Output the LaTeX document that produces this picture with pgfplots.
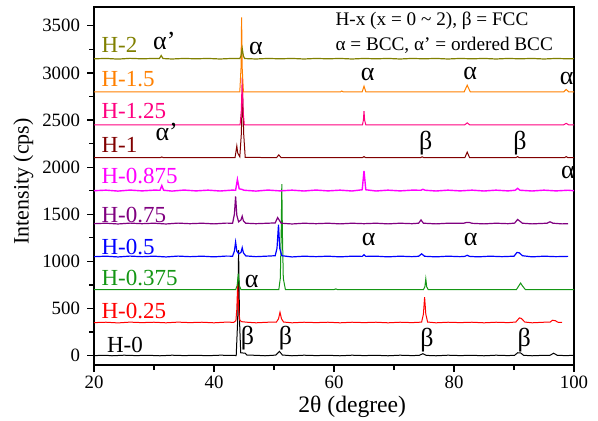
\documentclass[border=0pt]{standalone}
\usepackage{fontspec}
\setmainfont{Liberation Serif}
\usepackage{pgfplots}
\pgfplotsset{compat=1.18}

\definecolor{cH0}{RGB}{0,0,0}
\definecolor{cH025}{RGB}{255,0,0}
\definecolor{cH0375}{RGB}{20,150,20}
\definecolor{cH05}{RGB}{0,0,255}
\definecolor{cH075}{RGB}{128,0,128}
\definecolor{cH0875}{RGB}{255,0,255}
\definecolor{cH1}{RGB}{128,0,0}
\definecolor{cH125}{RGB}{255,0,128}
\definecolor{cH15}{RGB}{255,128,0}
\definecolor{cH2}{RGB}{128,128,0}

\newcommand{\lbl}{\fontsize{11.5}{12}\selectfont}
\newcommand{\gr}{\fontsize{13}{14}\selectfont}

\begin{document}
\begin{tikzpicture}
\begin{axis}[
scale only axis,
width=240pt, height=179pt,
xmin=20, xmax=100, ymin=-100, ymax=3700,
xtick={20,40,60,80,100},
ytick={0,500,1000,1500,2000,2500,3000,3500},
minor x tick num=1, minor y tick num=1,
tick align=outside, tick pos=left,
major tick length=3.5pt, minor tick length=2.5pt,
axis line style={line width=0.75pt},
every tick/.style={line width=0.6pt, black},
/pgf/number format/assume math mode=true,
/pgf/number format/1000 sep={},
ticklabel style={font=\fontsize{9.4}{10}\selectfont},
xticklabel style={inner sep=2pt},
xlabel={2θ (degree)}, ylabel={Intensity (cps)},
xlabel style={font=\fontsize{11.8}{13}\selectfont, inner sep=0pt, at={(axis description cs:0.538,-0.116)}, anchor=center},
ylabel style={font=\fontsize{11}{12}\selectfont, at={(axis description cs:-0.147,0.513)}, anchor=center},
clip=false,
]

% H-0
\addplot[cH0, line width=0.5pt] table[y expr=\thisrowno{1}] {
x y
20 0
22 3
23 -2
25 4
27 0
29 3
31 -2
33 4
35 0
37 3
39 -1
41 4
43.3 2
43.7 0
43.95 380
44.1 1120
44.25 380
44.45 30
44.7 28
45.2 25
45.5 5
47 3
48.5 -2
50.3 5
50.9 45
51.4 6
53 -2
55 4
57 0
59 3
61 -2
63 4
65 0
67 3
69 -2
71 4
73 0
74.2 2
74.8 20
75.4 2
77 -2
79 4
81 0
83 3
85 -2
87 4
89 0
90.1 3
90.6 30
91.1 28
91.6 3
93 -2
95 3
96.0 3
96.6 25
97.2 3
98.5 0
100 2
};

% H-0.25
\addplot[cH025, line width=0.5pt] table[y expr=\thisrowno{1}+350] {
x y
20 0
22 4
24 -3
26 5
28 0
30 4
32 -2
34 5
36 0
38 4
40 -2
42 5
43.3 3
43.65 20
43.8 140
43.95 420
44.1 140
44.3 25
44.6 10
45.5 4
47 -2
49 4
50.4 5
50.75 40
51.0 110
51.25 40
51.6 6
53 -2
55 4
57 0
59 4
61 -2
63 4
65 0
67 4
69 -2
71 4
73 0
74.6 5
74.9 90
75.1 270
75.3 90
75.6 6
77 -2
79 4
81 0
83 4
85 -2
87 4
89 0
90.3 6
90.9 50
91.2 45
91.8 6
93 -2
95 4
96.0 4
96.4 25
96.9 20
97.3 4
98 2
};

% H-0.375
\addplot[cH0375, line width=0.5pt] table[y expr=\thisrowno{1}+700] {
x y
20 0
43.6 0
43.85 40
44.05 170
44.25 40
44.5 0
50.8 0
51.05 120
51.2 600
51.3 1120
51.4 600
51.55 120
51.9 0
60 0
60.3 8
60.6 0
74.9 0
75.15 30
75.3 115
75.45 30
75.7 0
90.4 0
90.8 40
91.1 70
91.4 40
91.9 0
100 0
};

% H-0.5
\addplot[cH05, line width=0.6pt] table[y expr=\thisrowno{1}+1050] {
x y
20 0
22 5
24 -3
26 6
28 0
30 5
32 -3
34 6
36 0
38 5
40 -2
42 6
43.1 5
43.4 60
43.6 155
43.8 60
44.1 30
44.5 45
44.7 95
44.9 40
45.3 8
47 0
49 6
50.2 10
50.5 90
50.75 340
50.95 90
51.3 10
53 -3
55 5
57 0
59 5
61 -2
63 5
64.7 3
65.0 20
65.3 3
67 5
69 -2
71 5
73 0
74.1 4
74.6 30
75.1 4
77 -2
79 5
81 0
81.8 3
82.2 15
82.6 3
84 -2
86 5
88 0
90.0 5
90.5 45
90.9 40
91.4 10
93 -2
95 5
97 0
99 3
};

% H-0.75
\addplot[cH075, line width=0.6pt] table[y expr=\thisrowno{1}+1400] {
x y
20 0
22 5
24 -3
26 6
28 0
30 5
32 -3
34 6
36 0
38 5
40 -2
42 6
43.1 5
43.4 100
43.6 290
43.8 90
44.1 20
44.5 40
44.7 80
44.9 30
45.3 5
47 0
49 5
50.2 8
50.6 65
50.9 35
51.2 5
53 -3
55 5
57 0
59 5
61 -2
63 5
65 0
67 5
69 -2
71 5
73 0
74.1 5
74.5 40
74.9 5
77 -2
79 5
81.6 4
82.0 12
82.6 12
83.0 4
85 -2
87 5
89 0
90.1 6
90.6 45
91.0 25
91.4 5
93 -2
95.5 5
96.0 20
96.5 5
98 -2
99 0
};

% H-0.875
\addplot[cH0875, line width=0.7pt] table[y expr=\thisrowno{1}+1750] {
x y
20 0
22 6
24 -4
26 7
28 -2
30 6
31.0 5
31.3 55
31.6 5
33 -4
35 7
37 -2
39 6
41 -3
43 6
43.6 5
43.9 120
44.2 20
44.6 15
45 5
47 -4
49 7
51 -2
53 6
55 -3
57 7
59 -2
61 6
63 -3
64.7 10
65.0 210
65.3 10
67 -3
69 6
71 -2
73 6
74.5 5
74.8 15
75.2 5
77 -3
79 6
81 -2
83 6
85 -3
87 6
89 -2
90.2 5
90.6 25
91.0 5
93 -3
95 6
97 -2
99 5
100 0
};

% H-1
\addplot[cH1, line width=0.5pt] table[y expr=\thisrowno{1}+2100] {
x y
20 0
31.0 0
31.3 8
31.6 0
43.5 0
43.65 60
43.8 125
43.95 50
44.3 10
44.55 250
44.75 720
44.95 250
45.2 5
50.4 0
50.8 30
51.2 0
64.7 0
65.0 12
65.3 0
74.4 0
74.7 10
75.0 0
81.8 0
82.2 60
82.6 0
90.3 0
90.6 12
90.9 0
98.4 0
98.7 12
99.0 0
100 0
};

% H-1.25
\addplot[cH125, line width=0.5pt] table[y expr=\thisrowno{1}+2450] {
x y
20 0
44.35 0
44.55 150
44.7 500
44.85 150
45.05 0
64.75 0
64.9 50
65.0 145
65.1 50
65.3 0
81.8 0
82.2 20
82.6 0
98.3 0
98.7 15
99.1 0
100 0
};

% H-1.5
\addplot[cH15, line width=0.5pt] table[y expr=\thisrowno{1}+2800] {
x y
20 0
44.3 0
44.5 250
44.6 790
44.7 250
44.9 0
61.1 0
61.3 8
61.5 0
64.7 0
65.0 60
65.3 0
81.7 0
82.2 70
82.7 0
98.3 0
98.7 25
99.1 0
100 0
};

% H-2
\addplot[cH2, line width=0.6pt] table[y expr=\thisrowno{1}+3150] {
x y
20 0
22 4
24 -3
26 5
28 0
30 4
30.9 3
31.2 35
31.5 3
33 -2
35 4
37 0
39 4
41 -2
43 4
44.3 3
44.5 30
44.7 110
44.9 30
45.1 3
47 -2
49 4
51 0
53 4
55 -2
57 4
59 0
61 4
63 -2
65 4
67 0
69 4
71 -2
73 4
75 0
77 4
79 -2
81 4
83 0
85 4
87 -2
89 4
91 0
93 4
95 -2
97 4
99 0
100 2
};

% series labels
\begin{scope}[every node/.append style={inner sep=0pt, anchor=base west, font=\lbl}]
\node[text=cH2] at (axis cs:21.2,3217) {H-2};
\node[text=cH15] at (axis cs:21.2,2855) {H-1.5};
\node[text=cH125] at (axis cs:21.2,2515) {H-1.25};
\node[text=cH1] at (axis cs:21.2,2160) {H-1};
\node[text=cH0875] at (axis cs:21.2,1823) {H-0.875};
\node[text=cH075] at (axis cs:21.2,1415) {H-0.75};
\node[text=cH05] at (axis cs:21.2,1071) {H-0.5};
\node[text=cH0375] at (axis cs:21.2,745) {H-0.375};
\node[text=cH025] at (axis cs:21.2,398) {H-0.25};
\node[text=cH0] at (axis cs:22.1,32) {H-0};
\end{scope}

% legend text
\node[inner sep=0pt, anchor=base west, font=\fontsize{9.6}{12}\selectfont] at (axis cs:60.2,3507) {H-x (x = 0 \textasciitilde{} 2), β = FCC};
\node[inner sep=0pt, anchor=base west, font=\fontsize{9.6}{12}\selectfont] at (axis cs:60.2,3234) {α = BCC, α' = ordered BCC};

% phase labels
\node[inner sep=0pt, anchor=base west, font=\gr] at (axis cs:29.8,3252) {α'};
\node[inner sep=0pt, anchor=base west, font=\gr] at (axis cs:45.8,3199) {α};
\node[font=\gr] at (axis cs:65.6,2986) {α};
\node[font=\gr] at (axis cs:82.7,2997) {α};
\node[font=\gr] at (axis cs:98.8,2943) {α};
\node[inner sep=0pt, anchor=base west, font=\gr] at (axis cs:30.2,2280) {α'};
\node[font=\gr] at (axis cs:75.3,2252) {β};
\node[font=\gr] at (axis cs:91.0,2252) {β};
\node[font=\gr] at (axis cs:99.0,1944) {α};
\node[font=\gr] at (axis cs:65.8,1231) {α};
\node[font=\gr] at (axis cs:82.8,1231) {α};
\node[font=\gr] at (axis cs:46.3,787) {α};
\node[font=\gr] at (axis cs:45.6,185) {β};
\node[font=\gr] at (axis cs:51.9,185) {β};
\node[font=\gr] at (axis cs:75.5,167) {β};
\node[font=\gr] at (axis cs:91.7,167) {β};
\end{axis}
\pgfresetboundingbox
\path ([xshift=-47pt,yshift=-27.5pt]current axis.south west) rectangle ([xshift=12pt,yshift=3.5pt]current axis.north east);
\end{tikzpicture}
\end{document}
